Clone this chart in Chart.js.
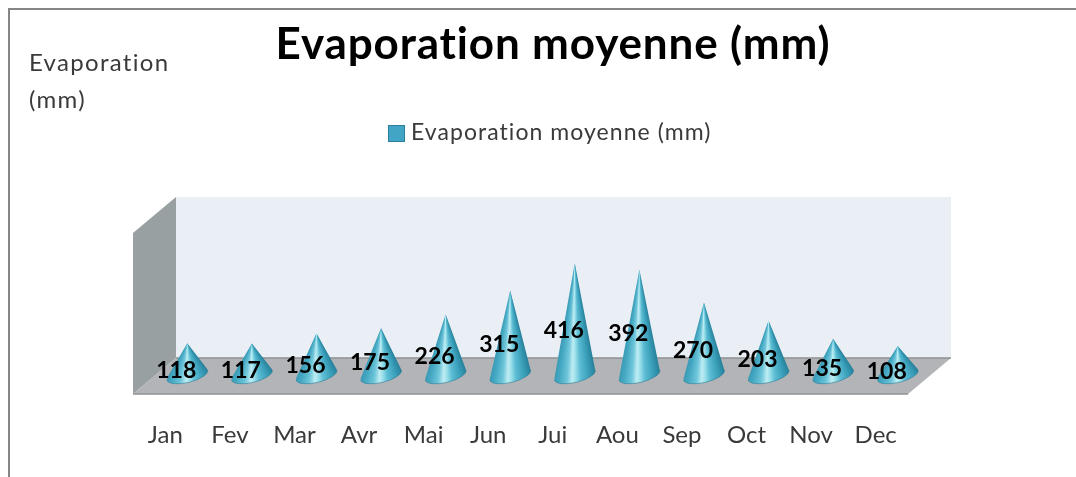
<!DOCTYPE html>
<html><head><meta charset="utf-8">
<style>html,body{margin:0;padding:0;background:#fff}canvas{display:block}</style>
<script src="https://cdn.jsdelivr.net/npm/chart.js@4"></script></head>
<body><canvas id="c" width="1076" height="477"></canvas>
<script>
const months = ['Jan','Fev','Mar','Avr','Mai','Jun','Jui','Aou','Sep','Oct','Nov','Dec'];
const evaporation = [118,117,156,175,226,315,416,392,270,203,135,108];
const seriesName = 'Evaporation moyenne (mm)';
const yTitleLines = ['Evaporation','(mm)'];
const FONT = 'Lato';
const DX = 43, DY = 36;          // depth of the 3-D box
const CX = 22, CY = 19;          // cones stand half way into the box
const coneStops = [[0,'#3a9ab5'],[.12,'#46a9c3'],[.3,'#6fc6da'],[.42,'#bfecf3'],[.5,'#9adfea'],
                   [.62,'#5cbcd3'],[.82,'#3a9fba'],[1,'#27809a']];

const frame = {
  id:'frame',
  beforeDraw(chart){
    const {ctx} = chart, a = chart.chartArea;
    ctx.save();
    ctx.fillStyle='#fff'; ctx.fillRect(0,0,chart.width,chart.height);
    ctx.strokeStyle='#858585'; ctx.lineWidth=2;
    ctx.beginPath(); ctx.moveTo(9,477); ctx.lineTo(9,9); ctx.lineTo(1076,9); ctx.stroke();
    ctx.fillStyle='#eaeff6';
    ctx.fillRect(a.left+DX,a.top-DY,a.right-a.left,a.bottom-a.top);
    ctx.fillStyle='#98a0a1';
    ctx.beginPath();
    ctx.moveTo(a.left,a.top); ctx.lineTo(a.left+DX,a.top-DY);
    ctx.lineTo(a.left+DX,a.bottom-DY); ctx.lineTo(a.left,a.bottom); ctx.closePath(); ctx.fill();
    ctx.fillStyle='#b2b4b7';
    ctx.beginPath();
    ctx.moveTo(a.left,a.bottom); ctx.lineTo(a.left+DX,a.bottom-DY);
    ctx.lineTo(a.right+DX,a.bottom-DY); ctx.lineTo(a.right,a.bottom); ctx.closePath(); ctx.fill();
    ctx.strokeStyle='#8e9192'; ctx.lineWidth=1.5;
    ctx.beginPath(); ctx.moveTo(a.left,a.bottom); ctx.lineTo(a.right,a.bottom);
    ctx.moveTo(a.left+DX,a.bottom-DY); ctx.lineTo(a.right+DX,a.bottom-DY); ctx.stroke();
    ctx.restore();
  }
};
// points of the tilted base ellipse that touch the cone's silhouette, seen from the apex
function tangents(cx,cy,rx,ry,rot,ax,ay){
  let tR=0,tL=Math.PI,aMin=Infinity,aMax=-Infinity;
  for(let k=0;k<720;k++){
    const t=k*Math.PI/360, ex=rx*Math.cos(t), ey=ry*Math.sin(t);
    const px=cx+ex*Math.cos(rot)-ey*Math.sin(rot), py=cy+ex*Math.sin(rot)+ey*Math.cos(rot);
    const an=Math.atan2(py-ay,px-ax);
    if(an<aMin){aMin=an;tR=t;}
    if(an>aMax){aMax=an;tL=t;}
  }
  return {tR,tL,aMin,aMax};
}
const cones = {
  id:'cones',
  afterDatasetsDraw(chart){
    const {ctx} = chart, meta = chart.getDatasetMeta(0), yS = chart.scales.y;
    const base = yS.getPixelForValue(0) - CY;
    meta.data.forEach(bar=>{
      const cx = bar.x + CX, apex = bar.y - CY, rx = bar.width/2, ry = 7.5, rot = -0.24;
      const T = tangents(cx,base,rx,ry,rot,cx,apex);
      const f = (T.aMax-T.aMin)/(2*Math.PI);
      const g = ctx.createConicGradient(T.aMin,cx,apex);
      // colours run clockwise (right edge to left edge), stops are defined left to right
      coneStops.forEach(s=>g.addColorStop((1-s[0])*f,s[1]));
      g.addColorStop(Math.min(f+0.001,1),coneStops[0][1]);
      g.addColorStop(1,coneStops[coneStops.length-1][1]);
      ctx.save();
      ctx.fillStyle=g;
      ctx.beginPath();
      ctx.moveTo(cx,apex);
      ctx.ellipse(cx,base,rx,ry,rot,T.tR>Math.PI?T.tR-2*Math.PI:T.tR,T.tL);
      ctx.closePath();
      ctx.fill();
      ctx.strokeStyle='rgba(35,120,145,.55)'; ctx.lineWidth=1;
      ctx.beginPath(); ctx.ellipse(cx,base,rx,ry,rot,0,Math.PI); ctx.stroke();
      ctx.restore();
    });
  },
  afterDraw(chart){
    const {ctx} = chart, meta = chart.getDatasetMeta(0), yS = chart.scales.y;
    const base = yS.getPixelForValue(0) - 20;
    ctx.save();
    ctx.textBaseline='middle';
    ctx.fillStyle='#000'; ctx.font='bold 23px '+FONT; ctx.textAlign='center';
    meta.data.forEach((bar,i)=>{
      ctx.fillText(String(evaporation[i]), bar.x+11, (base+bar.y-20)/2+12.5);
    });
    ctx.font='bold 44px '+FONT; ctx.letterSpacing='0.85px'; ctx.fillText(seriesName,553,45);
    ctx.textAlign='left'; ctx.fillStyle='#3a3a3a';
    ctx.font='23px '+FONT; ctx.letterSpacing='1.05px';
    ctx.fillText(seriesName,411,133);
    ctx.font='24px '+FONT; ctx.letterSpacing='1.3px';
    ctx.fillText(yTitleLines[0],29,63); ctx.fillText(yTitleLines[1],29,100);
    ctx.letterSpacing='0px';
    ctx.fillStyle='#43a5c6'; ctx.fillRect(388,125,17,17);
    ctx.strokeStyle='#2b7f9c'; ctx.lineWidth=1; ctx.strokeRect(388.5,125.5,16,16);
    ctx.restore();
  }
};
new Chart(document.getElementById('c'),{
  type:'bar',
  data:{labels:months,datasets:[{label:seriesName,data:evaporation,
    backgroundColor:'rgba(0,0,0,0)',borderWidth:0,barPercentage:.65,categoryPercentage:1}]},
  plugins:[frame,cones],
  options:{
    responsive:false,animation:false,
    layout:{padding:{left:133,right:168,top:233,bottom:0}},
    plugins:{title:{display:false},legend:{display:false},tooltip:{enabled:false}},
    scales:{
      x:{grid:{display:false},border:{display:false},afterFit(s){s.height=83},
         ticks:{color:'#3a3a3a',font:{family:FONT,size:24},padding:19,maxRotation:0,autoSkip:false}},
      y:{display:false,min:0,max:600,afterFit(s){s.width=0}}
    }
  }
});
</script></body></html>
